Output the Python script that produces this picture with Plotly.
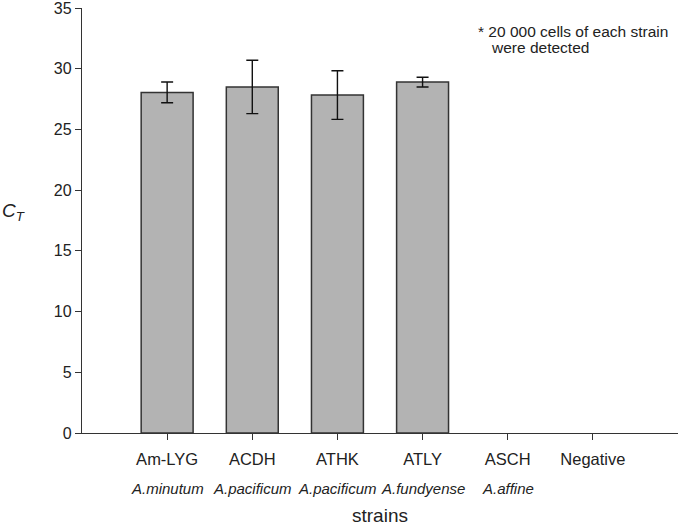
import plotly.graph_objects as go

strains = ["Am-LYG", "ACDH", "ATHK", "ATLY", "ASCH", "Negative"]
species = ["A.minutum", "A.pacificum", "A.pacificum", "A.fundyense", "A.affine", ""]
ct_values = [28.05, 28.5, 27.83, 28.9, None, None]
ct_errors = [0.85, 2.2, 2.0, 0.4, None, None]
y_ticks = [0, 5, 10, 15, 20, 25, 30, 35]
note_lines = ["* 20 000 cells of each strain", "were detected"]

font = "Liberation Sans, Arial, sans-serif"
txt = "#222222"

fig = go.Figure()
fig.add_trace(go.Bar(
    x=list(range(len(strains))),
    y=ct_values,
    width=0.61,
    marker=dict(color="#b3b3b3", line=dict(color="#333333", width=1.5)),
    error_y=dict(type="data", array=ct_errors, visible=True, color="#111111",
                 thickness=1.4, width=6),
    showlegend=False,
))

annotations = []
for i, sp in enumerate(species):
    if sp:
        annotations.append(dict(x=i, y=0, xref="x", yref="paper", text=f"<i>{sp}</i>",
                                showarrow=False, yanchor="middle", yshift=-55,
                                font=dict(family=font, size=15, color=txt)))
annotations.append(dict(x=2.5, y=0, xref="x", yref="paper", text="strains",
                        showarrow=False, yanchor="middle", yshift=-82,
                        font=dict(family=font, size=19, color=txt)))
annotations.append(dict(x=0, y=0.5, xref="paper", yref="paper", text="<i>C<sub>T</sub></i>",
                        showarrow=False, xanchor="left", yanchor="middle", xshift=-82, yshift=9,
                        font=dict(family=font, size=19, color=txt)))
annotations.append(dict(x=0.661, y=1, xref="paper", yref="paper", text=note_lines[0],
                        showarrow=False, xanchor="left", yanchor="middle", yshift=-23,
                        font=dict(family=font, size=15.5, color=txt)))
annotations.append(dict(x=0.683, y=1, xref="paper", yref="paper", text=note_lines[1],
                        showarrow=False, xanchor="left", yanchor="middle", yshift=-39,
                        font=dict(family=font, size=15.5, color=txt)))

fig.update_layout(
    width=680, height=525,
    margin=dict(l=82, r=2, t=8, b=92),
    paper_bgcolor="white", plot_bgcolor="white",
    annotations=annotations,
    font=dict(family=font, size=14, color=txt),
)
fig.update_xaxes(
    range=[-1, 6], tickmode="array", tickvals=list(range(len(strains))), ticktext=strains,
    ticks="outside", ticklen=6, tickwidth=1.2, tickcolor="#333333",
    showline=True, linecolor="#333333", linewidth=1.3, showgrid=False, zeroline=False,
    ticklabelstandoff=5, automargin=False,
    tickfont=dict(family=font, size=16.5, color=txt),
)
fig.update_yaxes(
    range=[0, 35], tickmode="array", tickvals=y_ticks,
    ticks="outside", ticklen=6, tickwidth=1.2, tickcolor="#333333",
    showline=True, linecolor="#333333", linewidth=1.3, showgrid=False, zeroline=False,
    automargin=False, ticklabeloverflow="allow",
    tickfont=dict(family=font, size=16, color=txt),
)

fig.write_html("out.html", config={"displayModeBar": False},
               post_script="document.body.style.margin='0';")
